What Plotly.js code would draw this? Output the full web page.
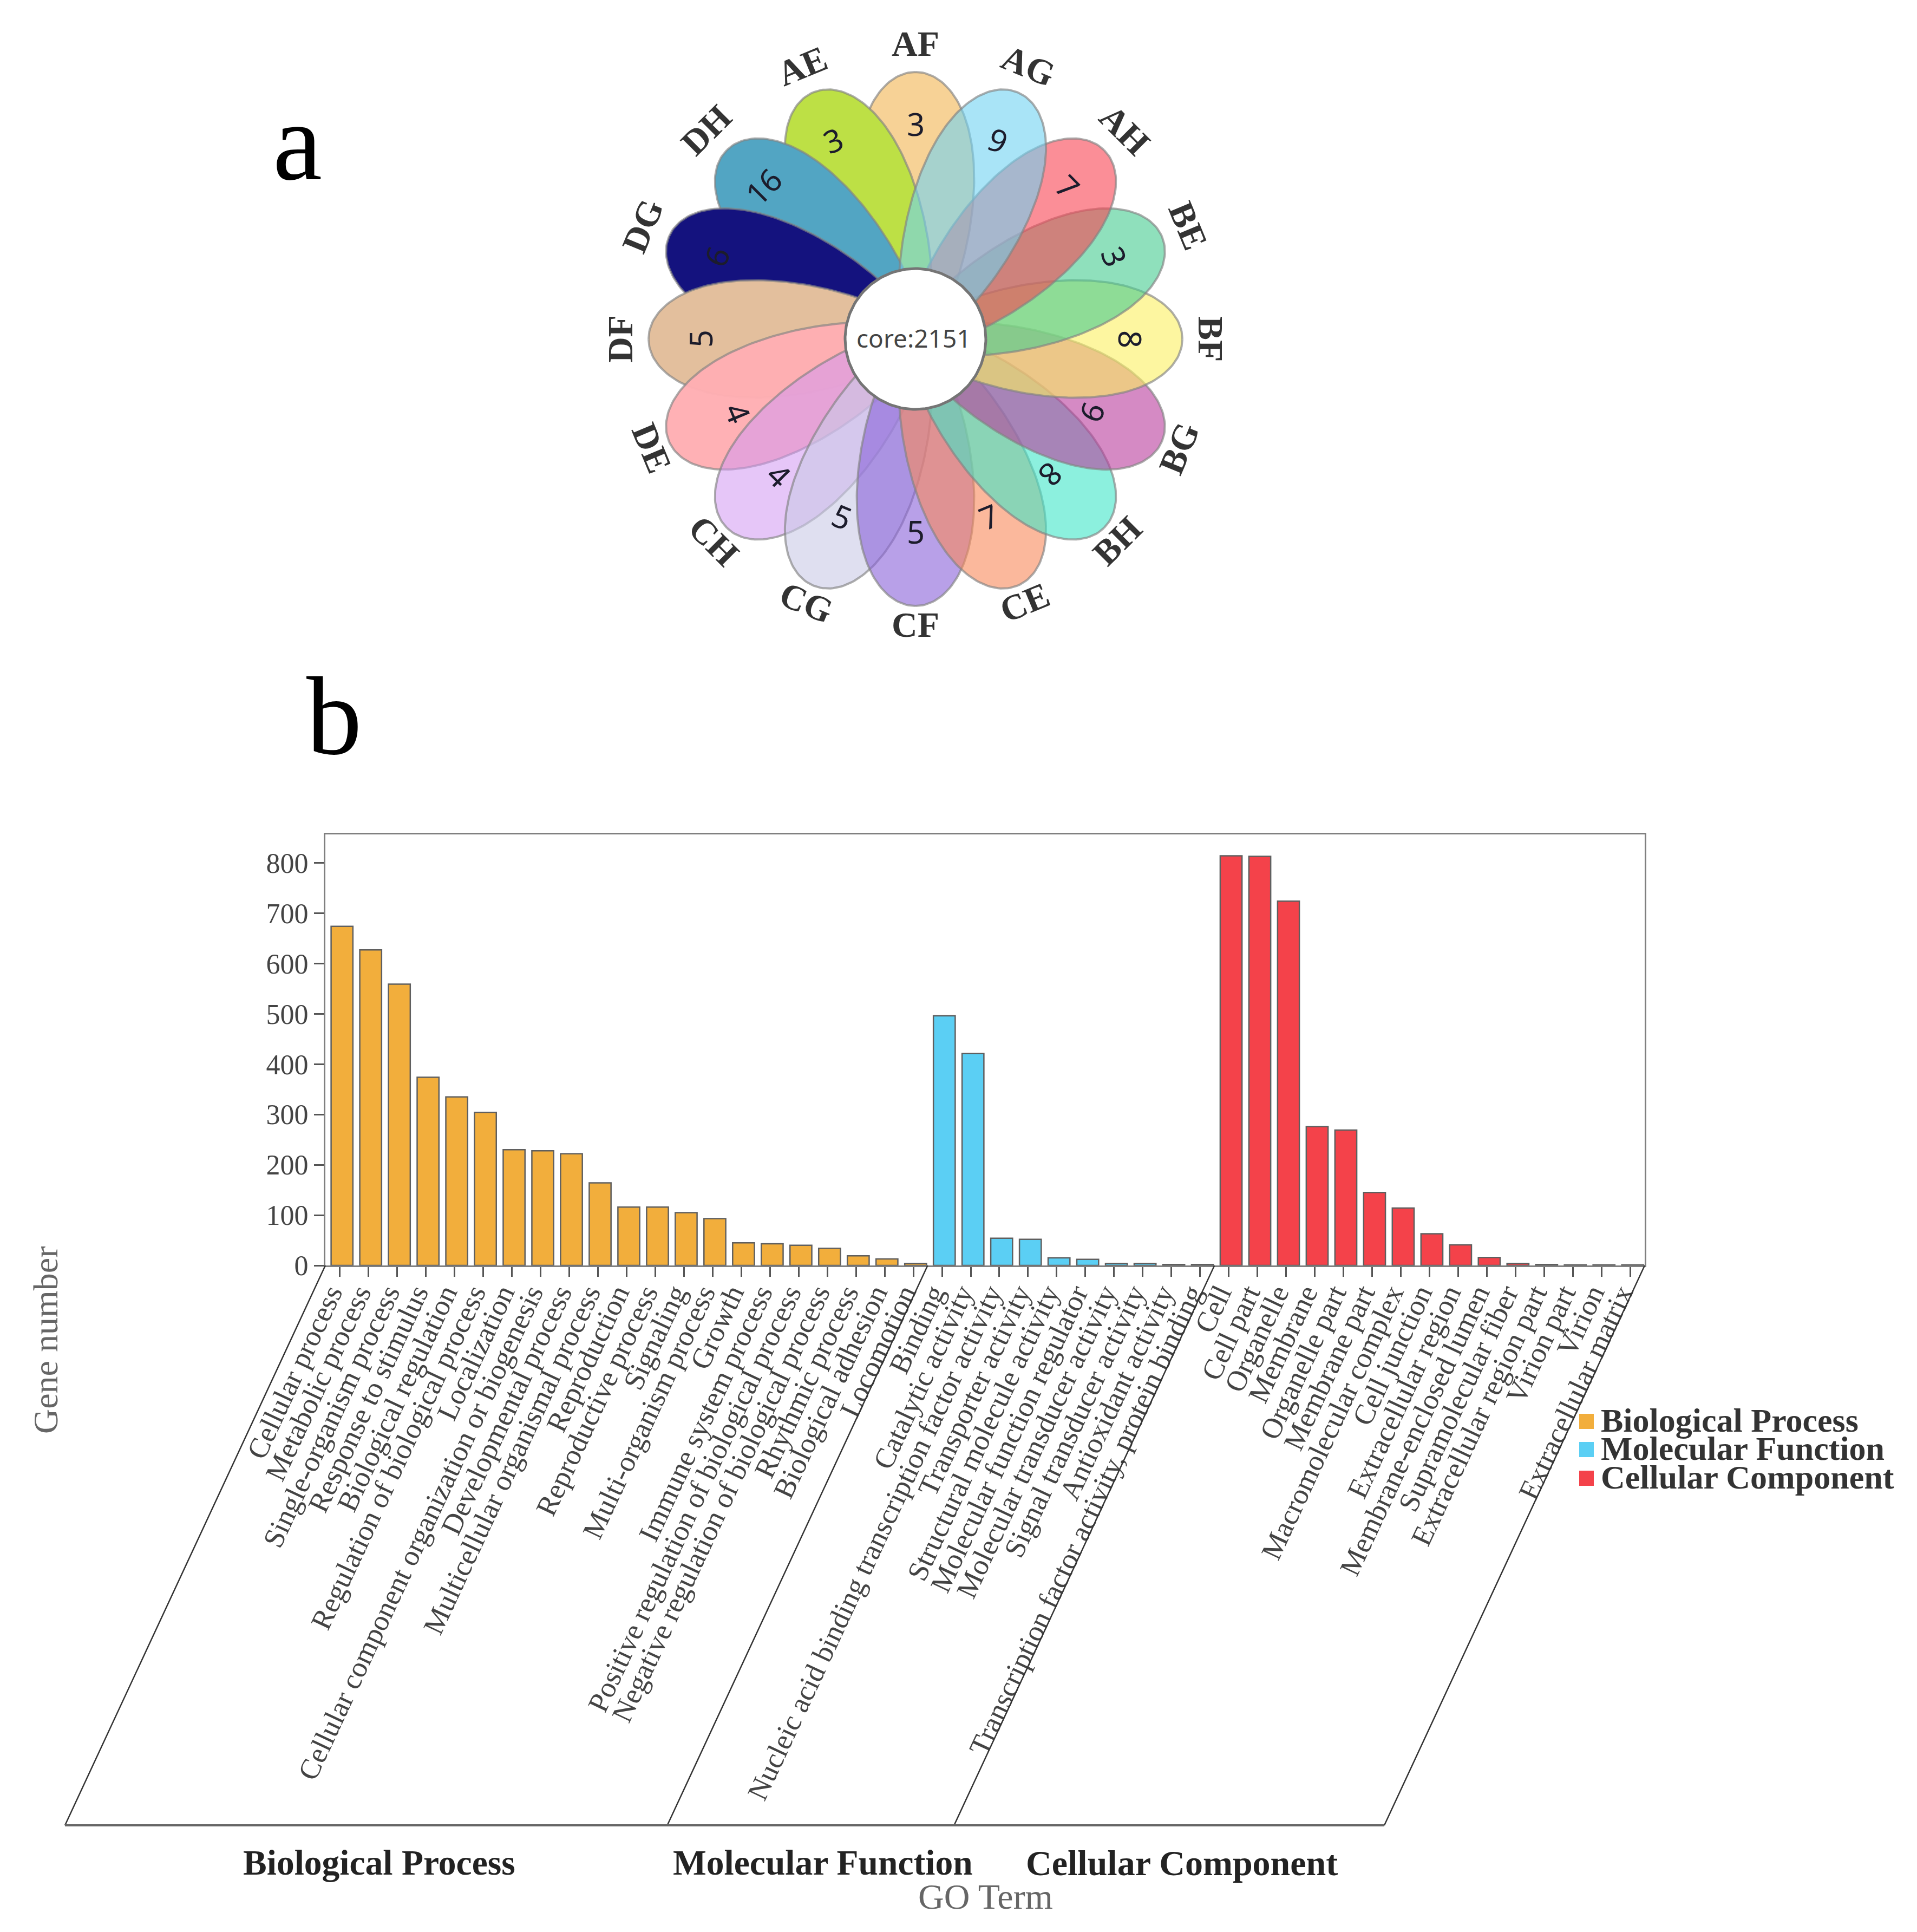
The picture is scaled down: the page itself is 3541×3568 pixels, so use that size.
<!DOCTYPE html>
<html><head><meta charset="utf-8">
<script src="https://cdn.plot.ly/plotly-3.0.1.min.js"></script>
<style>html,body{margin:0;padding:0;background:#fff}</style></head>
<body><div id="chart" style="width:3541px;height:3568px"></div>
<script>
const W=3541,H=3568;
const bpTerms=["Cellular process","Metabolic process","Single-organism process","Response to stimulus","Biological regulation","Regulation of biological process","Localization","Cellular component organization or biogenesis","Developmental process","Multicellular organismal process","Reproduction","Reproductive process","Signaling","Multi-organism process","Growth","Immune system process","Positive regulation of biological process","Negative regulation of biological process","Rhythmic process","Biological adhesion","Locomotion"];
const bpValues=[674,627,559,374,335,304,230,228,222,164,116,116,105,93,45,43,40,34,19,13,4];
const mfTerms=["Binding","Catalytic activity","Nucleic acid binding transcription factor activity","Transporter activity","Structural molecule activity","Molecular function regulator","Molecular transducer activity","Signal transducer activity","Antioxidant activity","Transcription factor activity, protein binding"];
const mfValues=[496,421,54,52,15,12,4,4,2,2];
const ccTerms=["Cell","Cell part","Organelle","Membrane","Organelle part","Membrane part","Macromolecular complex","Cell junction","Extracellular region","Membrane-enclosed lumen","Supramolecular fiber","Extracellular region part","Virion part","Virion","Extracellular matrix"];
const ccValues=[814,813,724,276,269,145,114,63,41,16,4,2,1,1,1];
const yTicks=[0,100,200,300,400,500,600,700,800];
const groupNames=["Biological Process","Molecular Function","Cellular Component"];
const groupColors=["#F2AE3C","#5BCFF4","#F4424A"];
// flower, clockwise from the top
const petalNames=["AF","AG","AH","BE","BF","BG","BH","CE","CF","CG","CH","DE","DF","DG","DH","AE"];
const petalCounts=[3,9,7,3,8,9,8,7,5,5,4,4,5,6,16,3];
const petalColors=[[247,210,150],[169,228,247],[251,142,151],[143,224,188],[253,246,160],[213,138,196],[140,240,222],[251,184,156],[184,160,232],[223,223,240],[230,198,248],[255,176,181],[227,191,157],[20,18,126],[82,165,195],[189,224,69]];
const petalAlpha=[.7,.6,.6,.6,.6,.6,.6,.6,.6,.6,.55,.97,1,1,1,1];
const labelAngles=[0,22.5,45,67.5,90,-67.5,-45,-22.5,0,22.5,45,67.5,-90,-67.5,-45,-22.5];
const countAngles=[0,22.5,45,67.5,90,112.5,135,-22.5,0,22.5,45,67.5,-90,-67.5,-45,-22.5];
const labelRadii=[546,546,546,546,546,527,527,527,527,527,527,527,546,546,546,546];
const countRadii=[398,398,398,398,398,355,355,355,355,355,355,355,398,398,398,398];
const coreLabel="core:2151";

const serif="Liberation Serif", sans="Noto Sans";
const px=x=>x/W, py=y=>1-y/H;
const allTerms=[...bpTerms,...mfTerms,...ccTerms];

const barTrace=(i,x,y)=>({type:'bar',name:groupNames[i],x:x,y:y,width:0.76,offset:-0.30,
  marker:{color:groupColors[i],line:{color:'#5f5f5f',width:2.5}},xaxis:'x',yaxis:'y',showlegend:false});
const traces=[barTrace(0,bpTerms,bpValues),barTrace(1,mfTerms,mfValues),barTrace(2,ccTerms,ccValues)];

// flower geometry (centre at 0,0 of the second axes)
const petalA=246, petalB=106, petalEgg=0.22, petalC=247, coreR=130;
function petal(i){
  const t=i*22.5*Math.PI/180, xs=[], ys=[];
  for(let k=0;k<=180;k++){
    const u=k*2*Math.PI/180;
    const along=petalC+petalA*Math.cos(u), across=petalB*Math.sin(u)*(1+petalEgg*Math.cos(u));
    xs.push(along*Math.sin(t)+across*Math.cos(t));
    ys.push(along*Math.cos(t)-across*Math.sin(t));
  }
  const a=petalAlpha[i], c=petalColors[i].map(v=>Math.max(0,Math.round((v-255*(1-a))/a)));
  return {type:'scatter',mode:'lines',x:xs,y:ys,fill:'toself',fillcolor:`rgba(${c[0]},${c[1]},${c[2]},${a})`,
    line:{color:'rgba(130,130,130,0.65)',width:4},xaxis:'x2',yaxis:'y2',showlegend:false,hoverinfo:'skip',name:petalNames[i]};
}
[0,15,14,13,12,11,10,9,8,7,6,5,4,3,2,1].forEach(i=>traces.push(petal(i)));
const cx=[],cy=[];
for(let k=0;k<=180;k++){const u=k*2*Math.PI/180;cx.push(coreR*Math.cos(u));cy.push(coreR*Math.sin(u));}
traces.push({type:'scatter',mode:'lines',x:cx,y:cy,fill:'toself',fillcolor:'#ffffff',line:{color:'#757575',width:5},xaxis:'x2',yaxis:'y2',showlegend:false,hoverinfo:'skip'});

const annotations=[];
petalNames.forEach((n,i)=>{
  const t=i*22.5*Math.PI/180;
  annotations.push({xref:'x2',yref:'y2',x:labelRadii[i]*Math.sin(t),y:labelRadii[i]*Math.cos(t),text:n,showarrow:false,textangle:labelAngles[i],
    xanchor:'center',yanchor:'middle',font:{family:serif,size:66,color:'#333',weight:700}});
  annotations.push({xref:'x2',yref:'y2',x:countRadii[i]*Math.sin(t),y:countRadii[i]*Math.cos(t),text:String(petalCounts[i]),showarrow:false,textangle:countAngles[i],
    xanchor:'center',yanchor:'middle',font:{family:sans,size:58,color:'#1c1c2c'}});
});
annotations.push({xref:'x2',yref:'y2',x:-3,y:2,text:coreLabel,showarrow:false,xanchor:'center',yanchor:'middle',font:{family:sans,size:46,color:'#444'}});

const pageText=(x,y,text,size,color,bold,extra)=>Object.assign({xref:'paper',yref:'paper',x:px(x),y:py(y),text:text,showarrow:false,xanchor:'center',yanchor:'middle',
  font:{family:serif,size:size,color:color,weight:bold?700:400}},extra||{});
annotations.push(pageText(549,262,'a',205,'#000',false));
annotations.push(pageText(617,1322,'b',205,'#000',false));
annotations.push(pageText(700,3440,groupNames[0],65.5,'#222',true));
annotations.push(pageText(1520,3440,groupNames[1],65.5,'#222',true));
annotations.push(pageText(2183,3440,groupNames[2],66,'#222',true));
annotations.push(pageText(1820,3502,'GO Term',66,'#666',false));
annotations.push(pageText(84,2475,'Gene number',64,'#666',false,{textangle:-90}));

// frame geometry
const plotL=601,plotR=3038,plotT=1541,plotB=2337,baseY=3371,slant=481;
const step=(plotR-plotL)/allTerms.length;
const seps=[plotL,plotL+step*bpTerms.length,plotL+step*(bpTerms.length+mfTerms.length),plotR];
const shapes=seps.map(x=>({type:'line',xref:'paper',yref:'paper',x0:px(x),y0:py(plotB),x1:px(x-slant),y1:py(baseY),line:{color:'#333',width:2.5}}));
shapes.push({type:'line',xref:'paper',yref:'paper',x0:px(plotL-slant),y0:py(baseY),x1:px(plotR-slant),y1:py(baseY),line:{color:'#666',width:4}});
const legendY=[2625,2677,2730];
groupNames.forEach((n,i)=>{
  shapes.push({type:'rect',xref:'paper',yref:'paper',x0:px(2917),x1:px(2944),y0:py(legendY[i]-14),y1:py(legendY[i]+14),fillcolor:groupColors[i],line:{width:0}});
  annotations.push(pageText(2955,legendY[i]-2,n,62,'#333',true,{xanchor:'left'}));
});

const layout={width:W,height:H,margin:{l:0,r:0,t:0,b:0},paper_bgcolor:'#fff',plot_bgcolor:'#fff',showlegend:false,bargap:0.24,
  xaxis:{domain:[px(plotL),px(plotR)],type:'category',categoryorder:'array',categoryarray:allTerms,range:[-0.5,allTerms.length-0.5],
    tickmode:'array',tickvals:allTerms,ticktext:allTerms,tickangle:-65,ticks:'outside',ticklen:18,tickwidth:3,tickcolor:'#555',
    ticklabelstandoff:-22,ticklabelshift:-18,
    tickfont:{family:serif,size:53.5,color:'#444'},showline:true,mirror:true,linecolor:'#808080',linewidth:3,showgrid:false,zeroline:false,automargin:false,anchor:'y'},
  yaxis:{domain:[py(plotB),py(plotT)],range:[0,856.6],tickvals:yTicks,ticks:'outside',ticklen:18,tickwidth:3,tickcolor:'#555',
    tickfont:{family:serif,size:52,color:'#444'},showline:true,mirror:true,linecolor:'#808080',linewidth:3,showgrid:false,zeroline:false,automargin:false,anchor:'x'},
  xaxis2:{domain:[px(1100),px(2300)],range:[-591,609],visible:false,fixedrange:true,anchor:'y2'},
  yaxis2:{domain:[py(1200),py(0)],range:[-574,626],visible:false,fixedrange:true,anchor:'x2'},
  shapes:shapes,annotations:annotations};
Plotly.newPlot('chart',traces,layout,{displayModeBar:false,responsive:false});
</script></body></html>
